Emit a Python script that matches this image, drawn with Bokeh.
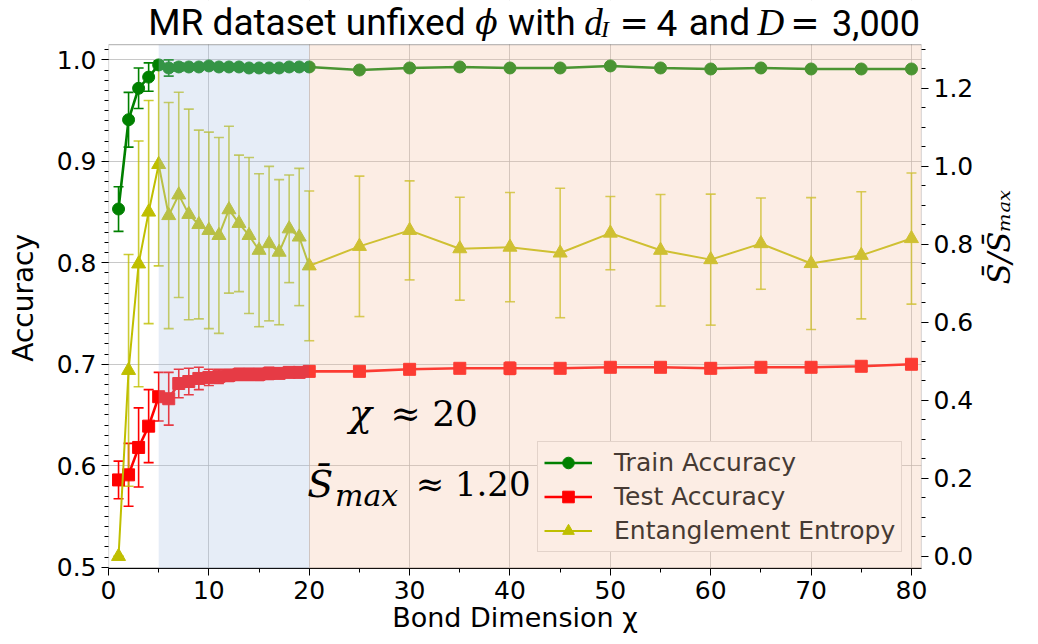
import math
from bokeh.plotting import figure
from bokeh.models import (Range1d, LinearAxis, SingleIntervalTicker, FixedTicker, PrintfTickFormatter,
                          Whisker, TeeHead, ColumnDataSource, BoxAnnotation, Label,
                          Legend, LegendItem)
from bokeh.embed import file_html
from bokeh.resources import INLINE

# ---------------- data ----------------
chi = list(range(1, 21)) + [25, 30, 35, 40, 45, 50, 55, 60, 65, 70, 75, 80]

train_acc = [0.853, 0.941, 0.972, 0.983, 0.995, 0.992, 0.993, 0.993, 0.993, 0.994,
             0.993, 0.993, 0.993, 0.992, 0.992, 0.992, 0.992, 0.993, 0.993, 0.993,
             0.990, 0.992, 0.993, 0.992, 0.992, 0.994, 0.992, 0.991, 0.992, 0.991, 0.991, 0.991]
train_err = [0.022, 0.027, 0.020, 0.014, 0.004, 0.008, 0.004, 0.003, 0.003, 0.003,
             0.003, 0.003, 0.003, 0.003, 0.003, 0.003, 0.003, 0.003, 0.003, 0.003,
             0.002, 0.002, 0.002, 0.002, 0.002, 0.002, 0.002, 0.002, 0.002, 0.002, 0.002, 0.002]

test_acc = [0.586, 0.591, 0.618, 0.639, 0.668, 0.666, 0.681, 0.683, 0.686, 0.687,
            0.688, 0.689, 0.690, 0.690, 0.690, 0.691, 0.691, 0.692, 0.692, 0.693,
            0.693, 0.695, 0.696, 0.696, 0.696, 0.697, 0.697, 0.696, 0.697, 0.697, 0.698, 0.700]
test_err = [0.0185, 0.031, 0.039, 0.036, 0.024, 0.026, 0.014, 0.013, 0.011, 0.008,
            0.007, 0.006, 0.006, 0.006, 0.006, 0.006, 0.005, 0.005, 0.005, 0.005,
            0.003, 0.003, 0.003, 0.006, 0.003, 0.003, 0.003, 0.005, 0.003, 0.004, 0.003, 0.003]

entropy = [0.0, 0.477, 0.750, 0.883, 1.005, 0.874, 0.927, 0.877, 0.851, 0.836,
           0.823, 0.889, 0.854, 0.823, 0.785, 0.802, 0.780, 0.840, 0.819, 0.745,
           0.795, 0.836, 0.789, 0.793, 0.778, 0.829, 0.785, 0.761, 0.802, 0.751, 0.772, 0.815]
entropy_err = [0.0, 0.297, 0.315, 0.286, 0.260, 0.290, 0.263, 0.270, 0.242, 0.252,
               0.251, 0.214, 0.175, 0.200, 0.196, 0.198, 0.186, 0.138, 0.176, 0.192,
               0.180, 0.127, 0.132, 0.140, 0.166, 0.094, 0.143, 0.168, 0.117, 0.169, 0.163, 0.168]

series_labels = ["Train Accuracy", "Test Accuracy", "Entanglement Entropy"]
acc_ticks = [0.5, 0.6, 0.7, 0.8, 0.9, 1.0]
ent_ticks = [0.0, 0.2, 0.4, 0.6, 0.8, 1.0, 1.2]
blue_span = (5, 20)
orange_start = 20

GREEN = "#008000"
RED = "#ff0000"
YELLOW = "#bfbf00"

# visible plotting box (left-axis units); area above it holds the title
Y_BOTTOM = 0.4987
Y_TOP = 1.0151

# ---------------- figure ----------------
p = figure(width=1038, height=644, x_range=Range1d(0, 81), y_range=Range1d(Y_BOTTOM, 1.0585),
           output_backend="svg", toolbar_location=None,
           min_border_left=108, min_border_right=112, min_border_top=0, min_border_bottom=76)
p.title = None
p.extra_y_ranges = {"right": Range1d(-0.031, 1.4254)}
p.background_fill_color = "white"
p.border_fill_color = "white"
p.outline_line_color = None

def style_axis(ax):
    ax.major_label_text_font = "DejaVu Sans"
    ax.major_label_text_font_size = "25px"
    ax.major_label_text_color = "black"
    ax.axis_label_text_font = "DejaVu Sans"
    ax.axis_label_text_font_size = "27px"
    ax.axis_label_text_font_style = "normal"
    ax.axis_label_text_color = "black"
    ax.axis_line_color = "black"
    ax.major_tick_line_color = "black"
    ax.minor_tick_line_color = "black"
    ax.major_tick_out = 7
    ax.major_tick_in = 0
    ax.minor_tick_out = 4
    ax.minor_tick_in = 0
    ax.major_label_standoff = 5

xax = p.xaxis[0]
xax.ticker = SingleIntervalTicker(interval=10, num_minor_ticks=2)
xax.formatter = PrintfTickFormatter(format="%d")
xax.axis_label = "Bond Dimension χ"
style_axis(xax)
xax.axis_label_standoff = 0

yax = p.yaxis[0]
yax.ticker = FixedTicker(ticks=acc_ticks,
                         minor_ticks=[round(0.50 + 0.01 * i, 2) for i in range(52)])
yax.formatter = PrintfTickFormatter(format="%.1f")
yax.axis_label = "Accuracy\u00a0\u00a0\u00a0"
style_axis(yax)
yax.axis_label_text_font_size = "28px"
yax.axis_line_color = None
yax.axis_label_standoff = 14

rax = LinearAxis(y_range_name="right",
                 ticker=FixedTicker(ticks=ent_ticks,
                                    minor_ticks=[round(0.05 * i, 2) for i in range(27)]),
                 formatter=PrintfTickFormatter(format="%.1f"))
style_axis(rax)
rax.axis_line_color = None
rax.axis_label = "S\u0304/S\u0304\u2098\u2090\u2093"
rax.axis_label_text_font = "DejaVu Serif"
rax.axis_label_text_font_size = "31px"
rax.axis_label_text_font_style = "italic"
rax.axis_label_orientation = math.pi / 2   # reads bottom-to-top
rax.axis_label_standoff = 23
p.add_layout(rax, "right")

p.xgrid.ticker = SingleIntervalTicker(interval=10)
p.ygrid.ticker = FixedTicker(ticks=acc_ticks)
for g in (p.xgrid[0], p.ygrid[0]):
    g.grid_line_color = "#b0b0b0"
    g.grid_line_alpha = 0.7
    g.grid_line_width = 1

# ---------------- series ----------------
def make_src(y, e):
    return ColumnDataSource(dict(x=chi, y=y,
                                 lo=[a - b for a, b in zip(y, e)],
                                 hi=[a + b for a, b in zip(y, e)]))

src_tr = make_src(train_acc, train_err)
src_te = make_src(test_acc, test_err)
src_en = make_src(entropy, entropy_err)

def whisk(src, color, width, alpha, rname="default"):
    w = Whisker(base="x", lower="lo", upper="hi", source=src,
                line_color=color, line_width=width, line_alpha=alpha,
                upper_head=TeeHead(size=10, line_color=color, line_width=width, line_alpha=alpha),
                lower_head=TeeHead(size=10, line_color=color, line_width=width, line_alpha=alpha),
                y_range_name=rname)
    p.add_layout(w)

whisk(src_tr, GREEN, 1.6, 1.0)
whisk(src_te, RED, 1.6, 1.0)
whisk(src_en, YELLOW, 1.6, 0.8, "right")

gl = p.line("x", "y", source=src_tr, line_color=GREEN, line_width=2.6)
gs = p.scatter("x", "y", source=src_tr, marker="circle", size=12,
               fill_color=GREEN, line_color=GREEN)
rl = p.line("x", "y", source=src_te, line_color=RED, line_width=2.6)
rs = p.scatter("x", "y", source=src_te, marker="square", size=12,
               fill_color=RED, line_color=RED)
yl = p.line("x", "y", source=src_en, line_color=YELLOW, line_width=2.0, y_range_name="right")
ys = p.scatter("x", "y", source=src_en, marker="triangle", size=14,
               fill_color=YELLOW, line_color=YELLOW, y_range_name="right")

# shaded regions drawn over the data (as in the reference)
p.add_layout(BoxAnnotation(left=blue_span[0], right=blue_span[1], top=Y_TOP,
                           fill_color="#acc3e4", fill_alpha=0.3, line_alpha=0))
p.add_layout(BoxAnnotation(left=orange_start, top=Y_TOP,
                           fill_color="#f5c3a5", fill_alpha=0.3, line_alpha=0))

legend = Legend(items=[LegendItem(label=series_labels[0], renderers=[gl, gs]),
                       LegendItem(label=series_labels[1], renderers=[rl, rs]),
                       LegendItem(label=series_labels[2], renderers=[yl, ys])],
                location=(429, 16))
legend.label_text_font = "DejaVu Sans"
legend.label_text_font_size = "25px"
legend.label_text_color = "#463a33"
legend.background_fill_color = "#fcede4"
legend.background_fill_alpha = 1.0
legend.border_line_color = "#e3d3ca"
legend.border_line_alpha = 1.0
legend.padding = 6
legend.spacing = 5
legend.margin = 0
legend.glyph_width = 48
legend.glyph_height = 29
legend.label_height = 29
legend.label_standoff = 22
p.add_layout(legend)

# white band above the plotting box (title area) and the box outline
p.add_layout(BoxAnnotation(bottom=Y_TOP, fill_color="white", fill_alpha=1.0, line_alpha=0))
p.add_layout(BoxAnnotation(top=Y_TOP, fill_alpha=0, line_color="#222222", line_width=1.2))

# ---------------- text annotations ----------------
def lab(x, y, text, font, size, style="normal", angle=0.0, align="left", base="alphabetic"):
    p.add_layout(Label(x=x, y=y, text=text, text_font=font, text_font_size=size,
                       text_font_style=style, text_color="black", angle=angle,
                       text_align=align, text_baseline=base))

# title pieces
TY = 1.0368
lab(3.96, TY, "MR dataset unfixed", "Roboto", "37px")
lab(36.55, TY, "ϕ", "DejaVu Serif", "33px", "italic")
lab(39.81, TY, "with", "Roboto", "36px")
lab(47.40, TY, "d", "Liberation Serif", "37px", "italic")
lab(49.08, 1.0308, "I", "Liberation Serif", "24px", "italic")
lab(50.90, TY, "=", "DejaVu Sans", "35px")
lab(54.60, TY, "4", "Roboto", "37px")
lab(57.80, TY, "and", "Roboto", "37px")
lab(64.66, TY, "D", "Liberation Serif", "37px", "italic")
lab(67.93, TY, "=", "DejaVu Sans", "35px")
lab(72.09, TY, "3,000", "Roboto", "36px")

# in-plot annotations
lab(23.96, 0.6515, "χ", "DejaVu Serif", "38px", "italic")
lab(28.1, 0.6515, "≈ 20", "DejaVu Serif", "36px")
lab(19.8, 0.5815, "S\u0304", "DejaVu Serif", "38px", "italic")
lab(22.57, 0.5707, "max", "DejaVu Serif", "30px", "italic")
lab(30.6, 0.5815, "≈ 1.20", "DejaVu Serif", "34px")

open("out.html", "w").write(file_html(p, INLINE))
